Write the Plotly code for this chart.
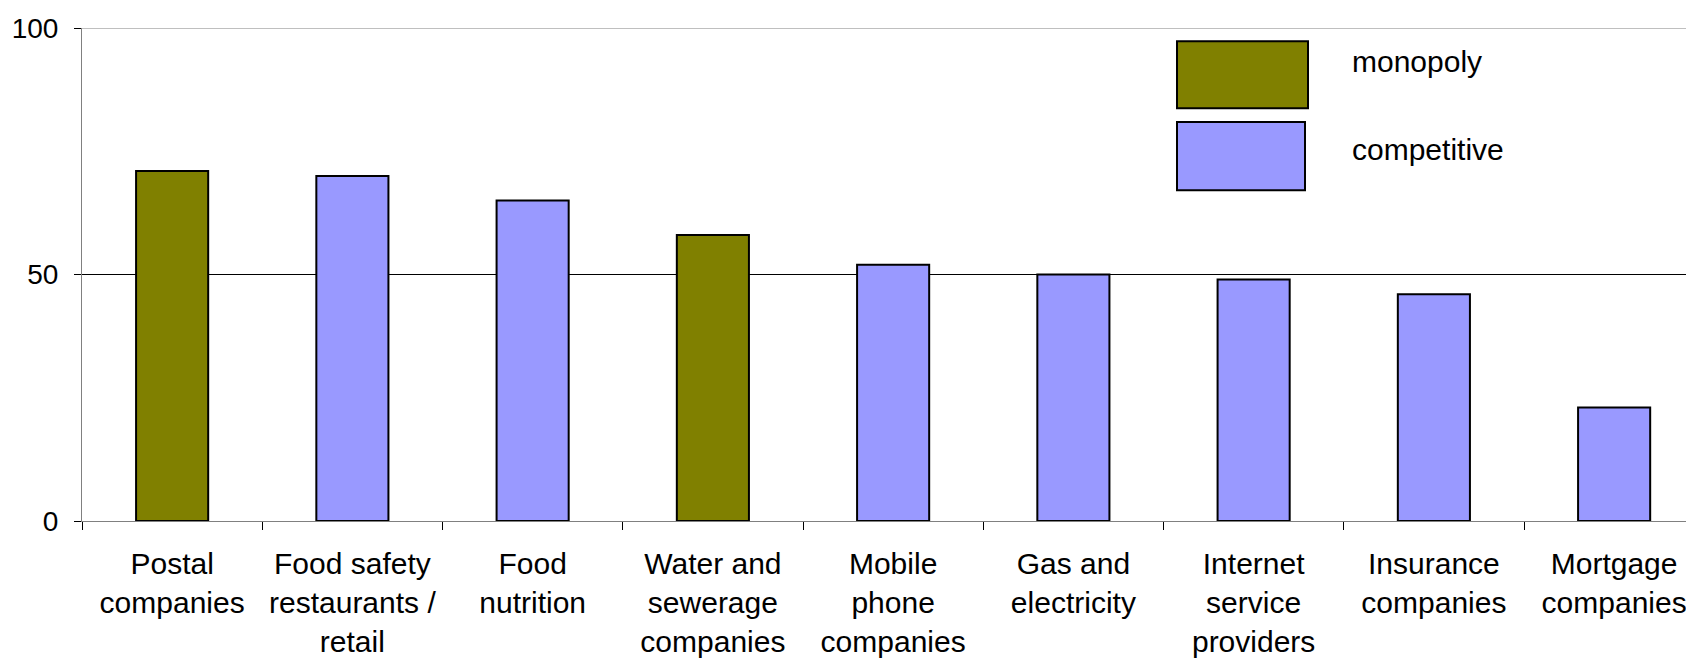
import plotly.graph_objects as go

# Share of respondents by sector, split by market type
categories = [
    "Postal<br>companies",
    "Food safety<br>restaurants /<br>retail",
    "Food<br>nutrition",
    "Water and<br>sewerage<br>companies",
    "Mobile<br>phone<br>companies",
    "Gas and<br>electricity",
    "Internet<br>service<br>providers",
    "Insurance<br>companies",
    "Mortgage<br>companies",
]
values = [71, 70, 65, 58, 52, 50, 49, 46, 23]
market_type = ["monopoly", "competitive", "competitive", "monopoly", "competitive",
               "competitive", "competitive", "competitive", "competitive"]

y_ticks = [0, 50, 100]
legend_labels = ["monopoly", "competitive"]

COLORS = {"monopoly": "#808000", "competitive": "#9999FF"}
FONT = "Liberation Sans, Arial, sans-serif"

W, H = 1686, 658
ML, MT, MB = 82, 27.5, 136.7
PLOT_W = W - ML
PLOT_H = H - MT - MB
CAT_PX = 180.25  # width of one category slot in pixels

fig = go.Figure()
fig.add_trace(go.Bar(
    x=categories,
    y=values,
    width=0.4,
    marker=dict(color=[COLORS[m] for m in market_type],
                line=dict(color="#000000", width=2)),
    showlegend=False,
    hoverinfo="x+y",
))

# horizontal reference lines at the upper ticks
shapes = []
for t in y_ticks[1:]:
    shapes.append(dict(type="line", xref="paper", yref="y", x0=0, x1=1, y0=t, y1=t,
                       line=dict(color="#000000" if t < 100 else "#808080", width=1),
                       layer="below"))


def px_to_paper(px, py):
    return (px - ML) / PLOT_W, (H - MB - py) / PLOT_H


# legend: large swatches with labels beside them
legend_boxes = [(1177, 40.7, 1308, 108), (1177, 121.7, 1305, 190)]
legend_text_y = [61, 149]
annotations = []
for name, (x0, y0, x1, y1), ty in zip(legend_labels, legend_boxes, legend_text_y):
    px0, py1 = px_to_paper(x0, y0)
    px1, py0 = px_to_paper(x1, y1)
    shapes.append(dict(type="rect", xref="paper", yref="paper",
                       x0=px0, x1=px1, y0=py0, y1=py1,
                       fillcolor=COLORS[name], line=dict(color="#000000", width=2)))
    ax, ay = px_to_paper(1350, ty)
    annotations.append(dict(xref="paper", yref="paper", x=ax, y=ay, text=name,
                            showarrow=False, xanchor="left", yanchor="middle",
                            font=dict(size=30, color="#000000", family=FONT)))

fig.update_layout(
    width=W, height=H,
    margin=dict(l=ML, r=0, t=MT, b=MB, pad=0),
    paper_bgcolor="#FFFFFF",
    plot_bgcolor="#FFFFFF",
    font=dict(family=FONT, size=28, color="#000000"),
    shapes=shapes,
    annotations=annotations,
    bargap=0.6,
    xaxis=dict(
        range=[-0.5, -0.5 + PLOT_W / CAT_PX],
        tickson="boundaries",
        ticks="outside", ticklen=8, tickcolor="#000000", tickwidth=1,
        showline=True, linecolor="#808080", linewidth=1,
        showgrid=False, zeroline=False,
        tickangle=0,
        ticklabelstandoff=16,
        tickfont=dict(size=30, family=FONT),
        fixedrange=True,
    ),
    yaxis=dict(
        range=[0, 100],
        tickvals=y_ticks,
        ticks="outside", ticklen=7, tickcolor="#000000", tickwidth=1,
        showline=True, linecolor="#808080", linewidth=1,
        showgrid=False, zeroline=False,
        ticklabelstandoff=10,
        tickfont=dict(size=28, family=FONT),
        fixedrange=True,
    ),
)

fig.write_html("out.html", config={"displayModeBar": False})
